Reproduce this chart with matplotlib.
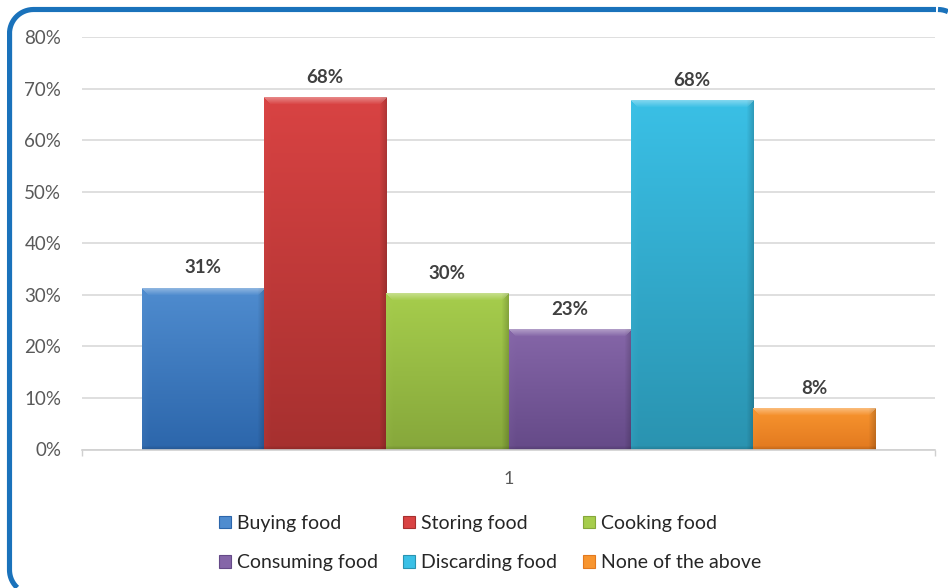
import numpy as np
import matplotlib
matplotlib.use("Agg")
import matplotlib.pyplot as plt
from matplotlib.patches import Patch
from matplotlib.colors import to_rgb

categories = ["Buying food", "Storing food", "Cooking food",
              "Consuming food", "Discarding food", "None of the above"]
values = [0.314, 0.683, 0.304, 0.234, 0.678, 0.081]
top_colors = ["#4f8ccf", "#d94343", "#a6cd4c", "#8566a8", "#3ac0e6", "#f8952f"]
bottom_colors = ["#2c66ab", "#a6302f", "#86a73b", "#654a88", "#2a93b0", "#e2791f"]
y_ticks = [0, 0.1, 0.2, 0.3, 0.4, 0.5, 0.6, 0.7, 0.8]
x_label = "1"

plt.rcParams['font.family'] = ['Lato', 'DejaVu Sans']

W, H, DPI = 948, 588, 100
fig = plt.figure(figsize=(W / DPI, H / DPI), dpi=DPI)
fig.patch.set_facecolor("white")

# full-figure overlay in pixel units for the frame
bg = fig.add_axes([0, 0, 1, 1])
bg.set_xlim(0, W)
bg.set_ylim(H, 0)
bg.axis("off")
bg.set_zorder(10)
bg.patch.set_alpha(0)


def rounded_rect(x0, y0, x1, y1, r, n=60):
    pts = []
    corners = [(x1 - r, y0 + r, -90, 0), (x1 - r, y1 - r, 0, 90),
               (x0 + r, y1 - r, 90, 180), (x0 + r, y0 + r, 180, 270)]
    for cx, cy, a0, a1 in corners:
        a = np.radians(np.linspace(a0, a1, n))
        pts.append(np.column_stack([cx + r * np.cos(a), cy + r * np.sin(a)]))
    pts = np.vstack(pts + [pts[0][:1]])
    return pts[:, 0], pts[:, 1]


bx, by = rounded_rect(9.5, 9.5, 962, 594, 24)
seg_x, seg_y = [], []
for k in range(len(bx) - 1):
    m = max(int(np.hypot(bx[k + 1] - bx[k], by[k + 1] - by[k]) // 2), 1)
    seg_x.append(np.linspace(bx[k], bx[k + 1], m, endpoint=False))
    seg_y.append(np.linspace(by[k], by[k + 1], m, endpoint=False))
bx = np.concatenate(seg_x)
by = np.concatenate(seg_y)
outside = (bx > W) | (by > H)
bx = np.where(outside, np.nan, bx)
by = np.where(outside, np.nan, by)
bg.plot(bx, by, color="#1a72bb", linewidth=3.7, solid_capstyle="butt")

ax_left, ax_right = 82, 935
ax_top, ax_bottom = 37, 449.5
ax = fig.add_axes([ax_left / W, 1 - ax_bottom / H,
                   (ax_right - ax_left) / W, (ax_bottom - ax_top) / H])

n = len(values)
x = np.arange(n)
gap = 60 / 122.2
px_per_unit = (ax_bottom - ax_top) / 0.8


def lighten(c, f):
    c = np.array(c)
    return c + (1 - c) * f


def darken(c, f):
    return np.array(c) * (1 - f)


bars = ax.bar(x, values, width=1.0, color=top_colors, zorder=3,
              edgecolor="none", linewidth=0)
for i, (b, v) in enumerate(zip(bars, values)):
    rows = max(int(round(v * px_per_unit)), 10)
    cols = 122
    top = np.array(to_rgb(top_colors[i]))
    bot = np.array(to_rgb(bottom_colors[i]))
    t = np.linspace(0, 1, rows)[:, None]
    img = top[None, None, :] * (1 - t[..., None]) + bot[None, None, :] * t[..., None]
    img = np.repeat(img, cols, axis=1)
    bev = 7
    for k in range(bev):
        f = (bev - k) / bev
        img[:, k] = img[:, k] * (1 - 0.12 * f) + 0.12 * f * np.array(lighten(top, 0.1))
        img[:, cols - 1 - k] = darken(img[:, cols - 1 - k], 0.18 * f)
    for k in range(4):
        f = (4 - k) / 4
        img[rows - 1 - k] = darken(img[rows - 1 - k], 0.15 * f)
    for k in range(bev):
        f = (bev - k) / bev
        img[k, k:cols - k] = lighten(img[k, k:cols - k], 0.35 * f)
    img = np.clip(img, 0, 1)
    im = ax.imshow(img, extent=(x[i] - 0.5, x[i] + 0.5, 0, v), aspect="auto",
                   interpolation="bilinear", zorder=3)
    im.set_clip_path(b)
    b.set_alpha(0)
    ax.annotate(f"{int(round(v * 100))}%", (x[i], v), xytext=(0, 8),
                textcoords="offset points", ha="center", va="bottom",
                fontsize=13.5, fontweight="bold", color="#404040", zorder=5)
ax.set_aspect("auto")
ax.set_xlim(-0.5 - gap, n - 0.5 + gap)
ax.set_ylim(0, 0.8)

ax.set_yticks(y_ticks)
ax.set_yticklabels([f"{int(round(t * 100))}%" for t in y_ticks])
ax.tick_params(axis="y", length=0, pad=15, labelsize=13.5, labelcolor="#595959")
ax.yaxis.grid(True, color="#d9d9d9", linewidth=1.2, zorder=0)
ax.set_axisbelow(True)

ax.set_xticks([-0.5 - gap, n - 0.5 + gap])
ax.set_xticklabels(["", ""])
ax.tick_params(axis="x", length=4, color="#d0d0d0", width=1, direction="out")
ax.text((n - 1) / 2, -0.058, x_label, ha="center", va="center",
        fontsize=13, color="#595959", transform=ax.transData)

for s in ["top", "right", "left"]:
    ax.spines[s].set_visible(False)
ax.spines["bottom"].set_color("#d0d0d0")
ax.spines["bottom"].set_linewidth(1.2)
ax.spines["bottom"].set_zorder(4)

handles = [Patch(facecolor=top_colors[i], edgecolor=bottom_colors[i], linewidth=0.8)
           for i in range(n)]
order = [0, 3, 1, 4, 2, 5]
leg = fig.legend([handles[i] for i in order], [categories[i] for i in order],
                 ncol=3, loc="center", bbox_to_anchor=(490 / W, 1 - 543 / H),
                 frameon=False, fontsize=14, handlelength=0.62, handleheight=0.62,
                 handletextpad=0.31, columnspacing=1.29, labelspacing=1.15)
for t in leg.get_texts():
    t.set_color("#262626")

fig.savefig("out.png", dpi=DPI)
